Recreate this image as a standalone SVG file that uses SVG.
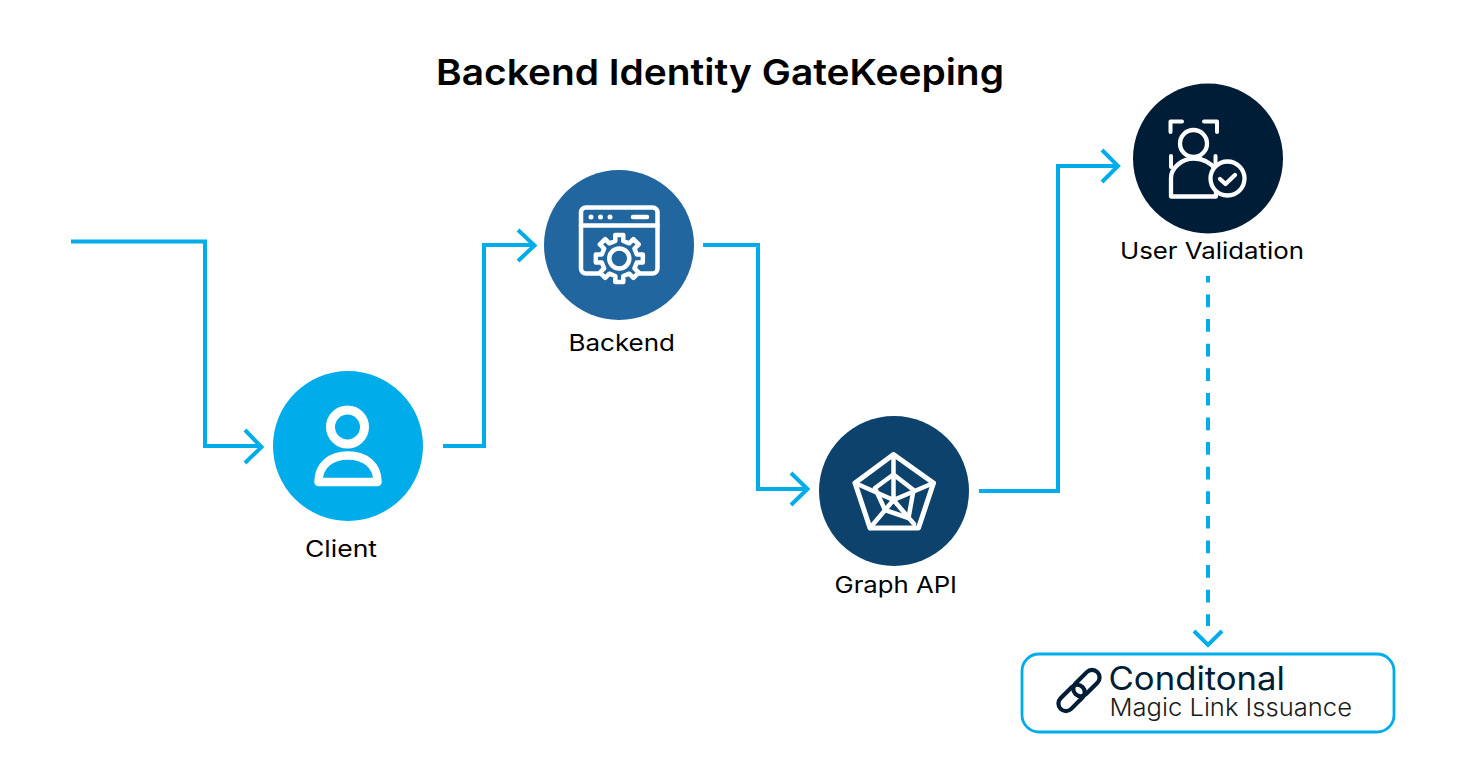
<svg xmlns="http://www.w3.org/2000/svg" width="1459" height="777" viewBox="0 0 1459 777">
<style>
text{font-family:"Inter","Noto Sans","Liberation Sans",sans-serif;fill:#000}
.title{font-size:36px;font-weight:600}
.label{font-size:23px;font-weight:400}
.conn{fill:none;stroke:#00ade9;stroke-width:4}
.ic{fill:none;stroke:#fff;stroke-linejoin:round;stroke-linecap:round}
.lnk{fill:none;stroke:#001d38;stroke-width:4.200}
</style>
<rect width="1459" height="777" fill="#fff"/>
<text class="title" x="436" y="85" textLength="568" lengthAdjust="spacingAndGlyphs">Backend Identity GateKeeping</text>
<g id="connectors">
<path class="conn" d="M71 241.500H205V446H261"/>
<path class="conn" d="M245 430L261.500 447L245 463"/>
<path class="conn" d="M443 446H484V245H535"/>
<path class="conn" d="M518 230L534.500 245.500L518 261"/>
<path class="conn" d="M703 245H758V489H807"/>
<path class="conn" d="M791 473L807.500 489L791 505"/>
<path class="conn" d="M979 491H1058V166H1117"/>
<path class="conn" d="M1102 150L1118 166L1102 182"/>
<path class="conn" stroke-width="4.300" stroke-dasharray="12.700 11.900" stroke-dashoffset="6.100" d="M1208 276V626"/>
<path class="conn" d="M1194 631L1208 645L1222 631"/>
</g>
<g id="client">
<circle cx="348" cy="446" r="75" fill="#00adea"/>
<circle class="ic" cx="347.500" cy="427" r="17" stroke-width="9"/>
<path class="ic" stroke-width="8.500" d="M318.500 482C318.500 465 331 455.500 348 455.500C365 455.500 377.500 465 377.500 482Z"/>
<text class="label" x="305" y="557" textLength="72" lengthAdjust="spacingAndGlyphs">Client</text>
</g>
<g id="backend">
<circle cx="619" cy="245" r="75" fill="#22669f"/>
<rect class="ic" x="581" y="207.500" width="76.500" height="66" rx="5" stroke-width="4.500"/>
<path class="ic" stroke-width="4.500" d="M581 225.500H657.500"/>
<circle cx="591" cy="217" r="2.500" fill="#fff"/>
<circle cx="600.500" cy="217" r="2.500" fill="#fff"/>
<circle cx="610" cy="217" r="2.500" fill="#fff"/>
<path class="ic" stroke-width="4.500" d="M633 217H647"/>
<path transform="translate(619.300 258.500)" fill="#22669f" stroke="#fff" stroke-width="4.500" stroke-linejoin="round" d="M-4-17.500V-23.500H4V-17.500L9.900-15.200L14.100-19.400L19.400-14.100L15.200-9.900L17.500-4H23.500V4H17.500L15.200 9.900L19.400 14.100L14.100 19.400L9.900 15.200L4 17.500V23.500H-4V17.500L-9.900 15.200L-14.100 19.400L-19.400 14.100L-15.200 9.900L-17.500 4H-23.500V-4H-17.500L-15.200-9.900L-19.400-14.100L-14.100-19.400L-9.900-15.200Z"/>
<circle class="ic" cx="619.300" cy="258.500" r="10" stroke-width="4.500"/>
<text class="label" x="568.500" y="351" textLength="106.500" lengthAdjust="spacingAndGlyphs">Backend</text>
</g>
<g id="graph-api">
<circle cx="894" cy="491" r="75" fill="#0d426c"/>
<path class="ic" stroke-width="5" d="M893.500 454.500L933.500 483L918.500 528H870L855 483Z"/>
<path class="ic" stroke-width="4.500" d="M893.500 474.500L913.500 490L908.500 518L885 510L875 488Z"/>
<path class="ic" stroke-width="4.500" d="M893.500 454.500V500M933.500 483L893.500 500M914 524L893.500 500M870 528L893.500 500M855 483L893.500 500"/>
<text class="label" x="834.500" y="593" textLength="122.500" lengthAdjust="spacingAndGlyphs">Graph API</text>
</g>
<g id="user-validation">
<circle cx="1208" cy="158.500" r="75" fill="#001d38"/>
<path class="ic" stroke-width="4" d="M1170.500 132V121.500H1182M1204 121.500H1217V132M1171 156V167M1215.500 156V165"/>
<circle class="ic" cx="1193.500" cy="143.500" r="13.500" stroke-width="4.300"/>
<path class="ic" stroke-width="4.300" d="M1171 196.500V178C1171 168 1182 158.500 1194 158.500C1204 158.500 1211 163 1216 170V196.500Z"/>
<circle cx="1227.500" cy="178.500" r="17" fill="#001d38" stroke="#fff" stroke-width="4.300"/>
<path class="ic" stroke-width="4.300" d="M1220 179L1225.500 184L1235 175"/>
<text class="label" x="1120" y="259" textLength="184" lengthAdjust="spacingAndGlyphs">User Validation</text>
</g>
<g id="conditional">
<rect x="1022" y="654" width="372" height="78" rx="17" fill="#fff" stroke="#00ade9" stroke-width="2.800"/>
<g transform="translate(1079 690.500) rotate(-45)">
<rect class="lnk" x="-5" y="-7.500" width="31" height="15" rx="7.500"/>
<rect class="lnk" x="-26" y="-7.500" width="31" height="15" rx="7.500"/>
</g>
<text x="1108.500" y="690" font-size="33" font-weight="400" style="fill:#001d38" textLength="176.500" lengthAdjust="spacingAndGlyphs">Conditonal</text>
<text x="1109.500" y="716" font-size="24" font-weight="300" style="fill:#1a1a1a" textLength="242.500" lengthAdjust="spacingAndGlyphs">Magic Link Issuance</text>
</g>
</svg>
